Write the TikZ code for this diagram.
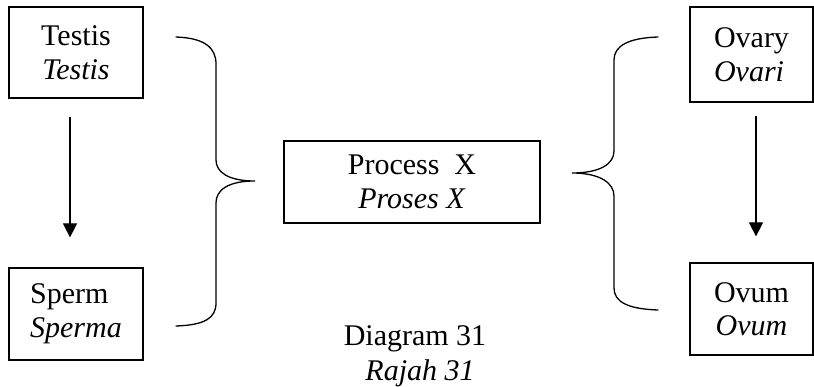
\documentclass[tikz,border=0pt]{standalone}
\usepackage{fontspec}
\setmainfont{Liberation Serif}
\usetikzlibrary{arrows.meta}
\begin{document}
\begin{tikzpicture}[x=1pt,y=-1pt,
  box/.style={draw, line width=1.2pt, inner sep=0pt, font=\fontsize{30}{33.5}\selectfont},
  brace/.style={line width=1.3pt, line cap=round},
  flow/.style={line width=1.2pt, -{Triangle[width=14pt,length=14pt]}},
  lbl/.style={inner sep=0pt, anchor=base, font=\fontsize{30}{33.5}\selectfont}]
\useasboundingbox (0,0) rectangle (814,387);
% boxes
\node[box, minimum width=134pt, minimum height=91pt, align=center] (testis) at (76,52.5) {Testis\\\textit{Testis}};
\node[box, minimum width=134pt, minimum height=92pt, align=left] (sperm) at (76,314) {Sperm\\\textit{Sperma}};
\node[box, minimum width=123pt, minimum height=95pt, align=left] (ovary) at (751.5,54.5) {Ovary\\\textit{Ovari}};
\node[box, minimum width=123pt, minimum height=92pt, align=center] (ovum) at (751.5,309) {Ovum\\\textit{Ovum}};
\node[box, minimum width=256pt, minimum height=82pt, align=center] (proc) at (412,182) {Process~~X\\\textit{Proses X}};
% arrows
\draw[flow] ([xshift=-6pt,yshift=-18pt]testis.south) -- ([xshift=-6pt,yshift=30pt]sperm.north);
\draw[flow] ([xshift=4.5pt,yshift=-13pt]ovary.south) -- ([xshift=4.5pt,yshift=26pt]ovum.north);
% left brace
\draw[brace] (176,37) .. controls (205,38) and (216,48) .. (216,64)
  -- (216,160) .. controls (216,172) and (228,181) .. (255,181)
  .. controls (228,181) and (216,190) .. (216,203)
  -- (216,303) .. controls (216,318) and (205,325) .. (176,326);
% right brace
\draw[brace] (658,37) .. controls (628,38) and (614,46) .. (614,60)
  -- (614,151) .. controls (614,164) and (600,173) .. (572,173)
  .. controls (600,173) and (614,183) .. (614,196)
  -- (614,288) .. controls (614,302) and (628,309) .. (658,310);
% caption
\node[lbl] (cap1) at (415,345) {Diagram 31};
\node[lbl] (cap2) at (420,380) {\textit{Rajah 31}};
\end{tikzpicture}
\end{document}
